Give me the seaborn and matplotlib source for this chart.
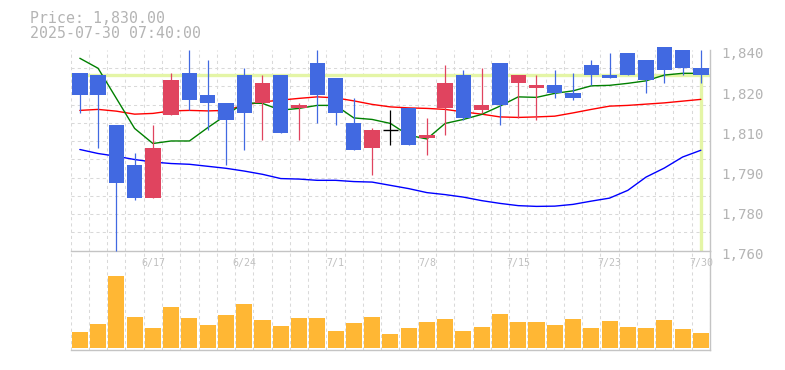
import numpy as np
import pandas as pd
import matplotlib
matplotlib.use("Agg")
import matplotlib.pyplot as plt
import matplotlib.transforms as mtransforms
import seaborn as sns

# ---------------- data ----------------
dates = ["6/11", "6/12", "6/13", "6/16", "6/17", "6/18", "6/19", "6/20", "6/23", "6/24",
         "6/25", "6/26", "6/27", "6/30", "7/1", "7/2", "7/3", "7/4", "7/7", "7/8",
         "7/9", "7/10", "7/11", "7/14", "7/15", "7/16", "7/17", "7/18", "7/22", "7/23",
         "7/24", "7/25", "7/28", "7/29", "7/30"]
opens = [1831, 1830, 1810, 1794, 1781, 1814, 1831, 1822, 1819, 1830,
         1819, 1830, 1817, 1835, 1829, 1811, 1801, 1808, 1817, 1805,
         1817, 1830, 1816, 1835, 1827, 1825, 1826, 1823, 1834, 1830,
         1839, 1836, 1841, 1840, 1833]
highs = [1831, 1830, 1810, 1799, 1810, 1831, 1840, 1836, 1819, 1833,
         1830, 1830, 1819, 1840, 1829, 1821, 1809, 1816, 1817, 1813,
         1834, 1832, 1833, 1835, 1830, 1830, 1832, 1831, 1836, 1839,
         1839, 1836, 1841, 1840, 1840]
lows = [1815, 1801, 1760, 1780, 1781, 1814, 1816, 1808, 1794, 1800,
        1804, 1807, 1804, 1811, 1810, 1800, 1790, 1802, 1802, 1798,
        1806, 1812, 1815, 1810, 1813, 1812, 1821, 1820, 1826, 1829,
        1830, 1823, 1827, 1830, 1827]
closes = [1822, 1822, 1787, 1781, 1801, 1828, 1820, 1819, 1812, 1815,
          1827, 1807, 1818, 1822, 1815, 1800, 1808, 1808, 1802, 1806,
          1827, 1813, 1818, 1818, 1830, 1826, 1823, 1821, 1830, 1829,
          1830, 1828, 1832, 1833, 1830]
ma_short = [1836.7, 1832.7, 1820.7, 1808.7, 1802.7, 1803.7, 1803.7, 1809.0, 1814.0, 1818.9,
            1818.7, 1816.0, 1816.7, 1817.9, 1817.9, 1812.9, 1812.3, 1810.7, 1806.0, 1804.5,
            1810.7, 1812.3, 1814.3, 1817.6, 1821.3, 1821.1, 1822.7, 1823.7, 1825.7, 1825.9,
            1826.7, 1827.7, 1830.0, 1830.7, 1830.7]
ma_mid = [1815.9, 1816.3, 1815.6, 1814.4, 1814.7, 1815.7, 1815.9, 1815.7, 1815.9, 1818.0,
          1819.3, 1820.0, 1820.7, 1821.3, 1820.9, 1819.7, 1818.3, 1817.3, 1816.9, 1816.7,
          1816.3, 1815.3, 1814.4, 1813.3, 1813.1, 1813.3, 1813.6, 1814.9, 1816.3, 1817.6,
          1817.9, 1818.4, 1818.9, 1819.6, 1820.3]
ma_long = [1800.3, 1798.7, 1797.6, 1796.3, 1795.3, 1794.7, 1794.4, 1793.6, 1792.8, 1791.7,
           1790.4, 1788.7, 1788.5, 1788.0, 1788.0, 1787.5, 1787.3, 1786.0, 1784.7, 1783.1,
           1782.3, 1781.3, 1779.9, 1778.8, 1777.9, 1777.6, 1777.7, 1778.4, 1779.7, 1780.9,
           1784.0, 1789.3, 1792.9, 1797.3, 1800.0]
volumes = [46000, 70000, 214000, 91000, 58000, 121000, 88000, 67000, 97000, 130000,
           82000, 64000, 88000, 88000, 49000, 73000, 91000, 40000, 58000, 76000,
           85000, 49000, 61000, 100000, 76000, 76000, 67000, 85000, 58000, 79000,
           61000, 58000, 82000, 55000, 43000]
last_price = 1830
ytick_values = [1840, 1824, 1808, 1792, 1776, 1760]
ytick_labels = ["1,840", "1,820", "1,810", "1,790", "1,780", "1,760"]
xtick_every = 5
header_lines = ["Price: 1,830.00", "2025-07-30 07:40:00"]

# ---------------- style ----------------
sns.set_style("white")
plt.rcParams["font.family"] = ["DejaVu Sans Mono", "DejaVu Sans"]

W, H = 785, 370
fig = plt.figure(figsize=(W / 100, H / 100), dpi=100)
fig.patch.set_facecolor("white")

def frac_x(px):
    return px / W

def frac_y(py):
    return 1 - py / H

L, R = 70.7, 710.0
P_TOP, P_BOT = 50.0, 250.5
V_BOT = 349.5
ax = fig.add_axes([frac_x(L), frac_y(P_BOT), frac_x(R - L), (P_BOT - P_TOP) / H])
axv = fig.add_axes([frac_x(L), frac_y(V_BOT), frac_x(R - L), (V_BOT - P_BOT) / H])
for a in (ax, axv):
    a.set_facecolor("none")
ax.set_zorder(2)

n = len(dates)
idx = np.arange(n)
GRID = "#d9d9d9"
SPINE = "#c4c4c4"
BLUE = "#4169e1"
RED = "#e0445f"
ORANGE = "#ffb734"
LIME = "#e4f5a6"

# ---------------- volume (seaborn bars) ----------------
df = pd.DataFrame({"date": dates, "volume": volumes})
sns.barplot(data=df, x="date", y="volume", order=dates, color=ORANGE, saturation=1,
            width=0.88, errorbar=None, linewidth=0, ax=axv)
vmax = max(volumes)
axv.set_ylim(-vmax * 5.1 / 214, vmax * 291.9 / 214)
axv.set_xlim(-0.5, n - 0.5)
axv.set_xlabel("")
axv.set_ylabel("")
axv.set_yticks([])
axv.set_xticks([])
axv.set_xticks(idx[:-0] if False else np.arange(-0.5, n, 1.0), minor=True)
axv.grid(False)
axv.xaxis.grid(True, which="minor", color=GRID, linestyle=(0, (3, 3)), linewidth=0.75)
axv.tick_params(which="both", length=0)
for s in ("top", "left"):
    axv.spines[s].set_visible(False)
for s in ("bottom", "right"):
    axv.spines[s].set_color(SPINE)
    axv.spines[s].set_linewidth(1.0)
axv.set_axisbelow(True)

# ---------------- price panel ----------------
ax.set_xlim(-0.5, n - 0.5)
ax.set_ylim(1760, 1840)

# grid (minor ticks)
ax.set_xticks(np.arange(-0.5, n, 1.0), minor=True)
ax.set_yticks(1760 + np.arange(1, 12) * 80 / 11, minor=True)
ax.grid(False)
ax.grid(True, which="minor", color=GRID, linestyle=(0, (3, 3)), linewidth=0.75)
ax.set_axisbelow(True)

# current price lines
ax.axhline(last_price, color=LIME, linewidth=2.4, zorder=1.5)
ax.vlines(n - 1, 1760, last_price, color=LIME, linewidth=2.4, zorder=1.5)

# moving averages (seaborn)
sns.lineplot(x=idx, y=ma_long, color="#0000ff", linewidth=1.0, ax=ax, zorder=2)
sns.lineplot(x=idx, y=ma_mid, color="#ff0000", linewidth=1.0, ax=ax, zorder=2)
sns.lineplot(x=idx, y=ma_short, color="#008000", linewidth=1.0, ax=ax, zorder=2)

# candles
o = np.array(opens, float)
c = np.array(closes, float)
hi = np.array(highs, float)
lo = np.array(lows, float)
cols = np.where(c > o, RED, np.where(c < o, BLUE, "black"))
ax.vlines(idx, lo, hi, colors=cols, linewidth=0.9, zorder=3, clip_on=False)
ax.bar(idx, np.abs(c - o), bottom=np.minimum(o, c), width=0.84, color=cols,
       linewidth=0, zorder=3.5, clip_on=False)
doji = idx[c == o]
ax.hlines(c[doji], doji - 0.42, doji + 0.42, colors="black", linewidth=1.0, zorder=3.5)

ax.set_xlabel("")
ax.set_ylabel("")

# ticks
tick_pos = idx[xtick_every - 1::xtick_every]
ax.set_xticks(tick_pos)
ax.set_xticklabels([dates[i] for i in tick_pos])
ax.yaxis.tick_right()
ax.set_yticks(ytick_values)
ax.set_yticklabels(ytick_labels)
ax.tick_params(which="both", length=0)
ax.tick_params(axis="x", pad=5.2, labelsize=7.2, labelcolor="#c0c0c0")
ax.tick_params(axis="y", pad=7.9, labelsize=10.2, labelcolor="#b4b4b4")
shift = mtransforms.ScaledTranslation(0, -3 / 100, fig.dpi_scale_trans)
for lab in ax.get_yticklabels():
    lab.set_transform(lab.get_transform() + shift)

for s in ("top", "left"):
    ax.spines[s].set_visible(False)
for s in ("bottom", "right"):
    ax.spines[s].set_color(SPINE)
    ax.spines[s].set_linewidth(1.0)

# header
fig.text(frac_x(29.5), frac_y(22.7), header_lines[0], fontsize=10.75, color="#b4b4b4",
         va="baseline", ha="left")
fig.text(frac_x(29.5), frac_y(37.7), header_lines[1], fontsize=10.75, color="#b4b4b4",
         va="baseline", ha="left")

fig.savefig("out.png", dpi=100, facecolor="white")
